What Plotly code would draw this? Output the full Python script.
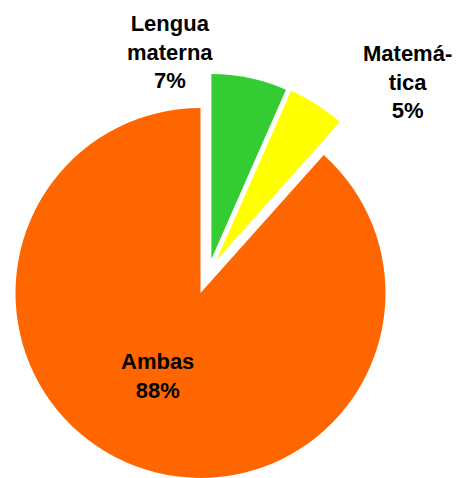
import plotly.graph_objects as go

# data
labels = ["Lengua materna", "Matemática", "Ambas"]
label_lines = ["Lengua<br>materna", "Matemá-<br>tica", "Ambas"]
values = [6.6, 5.0, 88.4]
colors = ["#33CC33", "#FFFF00", "#FF6600"]

W, H = 461, 478
OFF = 8  # default body margin of the html page
R = 185
# pie centres in page px (green and yellow slices are exploded)
centres = [(211.4, 259), (216.6, 260), (200.5, 293)]
# label anchors in page px
label_pos = [(170, 52), (407, 82), (157, 376)]


def domain(cx, cy, r):
    cx, cy = cx - OFF, cy - OFF
    return dict(x=[(cx - r) / W, (cx + r) / W],
                y=[1 - (cy + r) / H, 1 - (cy - r) / H])


fig = go.Figure()
order = [2, 0, 1]
for i in order:
    cols = [c if j == i else "rgba(0,0,0,0)" for j, c in enumerate(colors)]
    fig.add_trace(go.Pie(
        labels=labels, values=values, sort=False, direction="clockwise",
        rotation=0, textinfo="none", hoverinfo="skip",
        marker=dict(colors=cols, line=dict(width=0)),
        domain=domain(*centres[i], R), showlegend=False,
    ))

total = sum(values)
for txt, v, (x, y) in zip(label_lines, values, label_pos):
    pct = round(v / total * 100)
    fig.add_annotation(
        x=(x - OFF) / W, y=1 - (y - OFF) / H, xref="paper", yref="paper",
        xanchor="center", yanchor="middle", showarrow=False,
        text=f"<b>{txt}<br>{pct}%</b>",
        font=dict(family="Liberation Sans, Arial", size=22, color="black"),
    )

fig.update_layout(
    width=W, height=H,
    margin=dict(l=0, r=0, t=0, b=0),
    paper_bgcolor="white", plot_bgcolor="white",
    showlegend=False,
)
fig.write_html("out.html")
